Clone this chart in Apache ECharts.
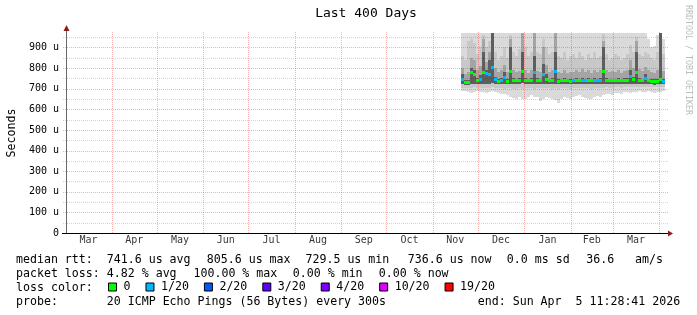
<!DOCTYPE html>
<html>
<head>
<meta charset="utf-8">
<script src="https://cdn.jsdelivr.net/npm/echarts@6.0.0/dist/echarts.min.js"></script>
<style>
html,body{margin:0;padding:0;background:#ffffff;}
#chart{width:697px;height:315px;}
</style>
</head>
<body>
<div id="chart"></div>
<script>
// ================= DATA =================
const chartTitle = 'Last 400 Days';
const yAxisName = 'Seconds';
const sideText = 'RRDTOOL / TOBI OETIKER';
const endTime = '2026-04-05T11:28:41';
const spanDays = 400;
const yMax = 970;
const yGridValues = [50,100,150,200,250,300,350,400,450,500,550,600,650,700,750,800,850,900,950];
const monthStarts = ['2025-03-01','2025-04-01','2025-05-01','2025-06-01','2025-07-01','2025-08-01','2025-09-01',
  '2025-10-01','2025-11-01','2025-12-01','2026-01-01','2026-02-01','2026-03-01','2026-04-01'];
const monthNames = ['Mar','Apr','May','Jun','Jul','Aug','Sep','Oct','Nov','Dec','Jan','Feb','Mar'];

// columns of 2 days each, starting at the first sample
const firstColumn = '2025-11-21T00:00:00';
const columnDays = 2;

// median RTT (microseconds)
const median = [
  745,732,731,780,770,742,748,779,776,769,
  806,745,738,741,756,738,784,742,740,740,
  787,742,740,742,779,741,740,773,745,740,
  740,784,739,740,741,740,739,740,741,740,
  742,740,741,740,742,740,742,784,741,740,
  740,740,741,740,741,742,760,745,779,742,
  740,750,740,738,737,738,745,737];
// loss class index into lossNames
const lossIndex = [
  1,0,0,0,0,0,1,0,1,1,
  1,1,0,1,1,0,0,0,0,0,
  0,0,0,0,1,0,0,1,0,0,
  0,1,0,0,0,0,0,1,0,0,
  1,1,0,0,1,1,1,0,0,0,
  0,0,0,0,0,0,1,0,0,0,
  0,1,0,0,0,0,0,1];
// smoke: outer (lightest) band
const smokeMin = [
  690,688,684,680,683,690,686,682,679,686,
  690,684,680,676,672,668,660,655,650,658,
  648,652,660,668,662,658,640,650,660,655,
  650,646,632,648,660,655,650,658,665,670,
  660,655,650,648,660,665,662,668,672,675,
  670,678,680,676,682,684,680,686,684,688,
  685,682,688,684,680,686,683,688];
const smokeMax = [
  970,970,970,970,970,970,970,970,970,970,
  970,970,970,970,970,970,970,970,970,970,
  970,970,970,970,970,970,970,970,970,970,
  970,970,970,970,970,970,970,970,970,970,
  970,970,970,970,970,970,970,970,970,970,
  970,970,970,970,970,970,970,970,970,970,
  970,970,940,900,905,960,970,940];
// second band
const band1Low = [
  705,703,702,704,706,705,704,703,702,704,
  706,705,703,702,700,702,704,700,698,702,
  700,703,704,702,700,703,701,703,704,702,
  700,702,698,701,703,702,700,703,704,705,
  703,702,701,700,703,704,703,705,706,705,
  704,706,707,705,706,707,706,707,706,708,
  707,706,708,707,706,707,706,708];
const band1High = [
  860,840,930,940,920,870,900,960,900,930,
  970,880,840,860,900,850,960,880,860,890,
  970,900,860,880,970,880,870,940,900,870,
  880,970,860,850,880,840,860,870,850,880,
  860,840,870,850,880,850,860,965,870,840,
  850,870,860,840,850,870,910,880,950,870,
  860,880,870,850,840,880,970,870];
// third band
const band2Low = [
  722,720,720,724,723,722,724,725,723,724,
  726,723,722,723,724,722,725,723,722,723,
  726,723,722,723,725,722,722,724,723,722,
  723,725,722,722,723,722,721,723,722,723,
  724,722,723,722,724,722,723,725,723,722,
  722,723,722,721,722,723,725,723,724,722,
  723,724,722,721,720,722,725,721];
const band2High = [
  800,770,780,850,840,790,810,940,830,880,
  970,800,780,790,815,780,940,790,780,785,
  970,790,775,790,970,785,780,900,815,780,
  790,970,780,778,790,775,780,782,790,780,
  795,780,790,778,790,782,790,930,790,780,
  785,780,790,778,785,790,840,800,930,795,
  785,805,790,780,778,790,970,785];
// dark core top
const coreHigh = [
  770,742,740,800,790,750,765,880,790,840,
  970,758,748,752,780,748,900,752,748,750,
  880,752,748,752,860,750,748,820,770,748,
  750,880,748,748,750,748,748,748,750,748,
  752,748,750,748,752,748,752,900,750,748,
  748,748,750,748,750,752,790,756,880,752,
  748,772,748,746,745,748,970,746];

const lossNames  = ['0','1/20','2/20','3/20','4/20','10/20','19/20'];
const lossColors = ['#00ff00','#00b8ff','#0059ff','#5e00ff','#7e00ff','#dd00ff','#ff0000'];

const statLine1 = ['median rtt:','741.6 us avg','805.6 us max','729.5 us min','736.6 us now','0.0 ms sd','36.6   am/s'];
const statLine2 = ['packet loss:','4.82 % avg','100.00 % max','0.00 % min','0.00 % now'];
const statLine3 = ['loss color:'];
const statLine4 = ['probe:','20 ICMP Echo Pings (56 Bytes) every 300s','end: Sun Apr  5 11:28:41 2026'];

// ================= LAYOUT / STYLE =================
const MONO = '"DejaVu Sans Mono", monospace';
const layout = {
  line1: {y: 260, x: [16, 106.8, 206.8, 305.5, 407.8, 506.8, 586.2]},
  line2: {y: 273.5, x: [16, 106.8, 193.5, 292.8, 378.8]},
  line3: {y: 287.5, x: [16]},
  line4: {y: 302, x: [16, 106.8, 477.8]}
};
const MAJOR = 'rgba(230,40,40,0.36)';
const MINOR = 'rgba(0,0,0,0.17)';

const DAY = 864e5;
const tOf = s => new Date(s.length === 10 ? s + 'T00:00:00' : s).getTime();
const endTs = tOf(endTime);
const startTs = endTs - spanDays * DAY;
const STEP = columnDays * DAY;
const colStart = tOf(firstColumn);
const colTimes = median.map((_, i) => colStart + i * STEP);

function rectBetween(api, t, lowV, highV, fill) {
  const a = api.coord([t - STEP / 2, highV]);
  const b = api.coord([t + STEP / 2, lowV]);
  const x0 = Math.round(a[0]), x1 = Math.round(b[0]);
  const y0 = Math.round(a[1]), y1 = Math.round(b[1]);
  return {type: 'rect', shape: {x: x0, y: y0, width: Math.max(0, x1 - x0), height: Math.max(0, y1 - y0)}, style: {fill}};
}

const chart = echarts.init(document.getElementById('chart'), null, {renderer: 'canvas'});

const series = [];
// smoke
series.push({
  type: 'custom', z: 1, silent: true, clip: true,
  data: colTimes.map((t, i) => [t, smokeMin[i], smokeMax[i], band1Low[i], band1High[i], band2Low[i], band2High[i], coreHigh[i]]),
  encode: {x: 0, y: [1, 2]},
  renderItem(params, api) {
    const t = api.value(0);
    return {type: 'group', children: [
      rectBetween(api, t, api.value(1), api.value(2), '#dadada'),
      rectBetween(api, t, api.value(3), api.value(4), '#c8c8c8'),
      rectBetween(api, t, api.value(5), api.value(6), '#a4a4a4'),
      rectBetween(api, t, api.value(5), api.value(7), '#5e5e5e')
    ]};
  }
});
// horizontal grid
series.push({
  type: 'custom', z: 2, silent: true, clip: false,
  data: yGridValues.map(v => [startTs, v]),
  encode: {x: 0, y: 1},
  renderItem(params, api) {
    const v = api.value(1);
    const p = api.coord([startTs, v]), q = api.coord([endTs, v]);
    const y = Math.round(p[1]) + 0.5;
    return {type: 'line', shape: {x1: Math.round(p[0]) - 3, y1: y, x2: Math.round(q[0]) + 3, y2: y},
      style: {stroke: v % 100 === 0 ? MAJOR : MINOR, lineWidth: 1, lineDash: [1, 1]}};
  }
});
// vertical month grid
series.push({
  type: 'custom', z: 2, silent: true, clip: false,
  data: monthStarts.map(tOf).filter(t => t > startTs && t < endTs).map(t => [t, 0]),
  encode: {x: 0, y: 1},
  renderItem(params, api) {
    const t = api.value(0);
    const p = api.coord([t, 0]), q = api.coord([t, yMax]);
    const x = Math.round(p[0]) + 0.5;
    return {type: 'line', shape: {x1: x, y1: Math.round(p[1]), x2: x, y2: Math.round(q[1]) - 2},
      style: {stroke: MAJOR, lineWidth: 1, lineDash: [1, 1]}};
  }
});
// median coloured by loss
lossNames.forEach((name, k) => {
  series.push({
    type: 'custom', name, z: 4, silent: true, clip: true,
    itemStyle: {color: lossColors[k]},
    data: colTimes.map((t, i) => lossIndex[i] === k ? [t, median[i]] : null).filter(d => d),
    encode: {x: 0, y: 1},
    renderItem(params, api) {
      const t = api.value(0), v = api.value(1);
      const a = api.coord([t - STEP / 2, v]), b = api.coord([t + STEP / 2, v]);
      const x0 = Math.round(a[0]), x1 = Math.round(b[0]), y = Math.round(a[1]);
      return {type: 'rect', shape: {x: x0, y: y - 1, width: x1 - x0, height: 3}, style: {fill: lossColors[k]}};
    }
  });
});
// month labels
series.push({
  type: 'scatter', z: 5, silent: true, clip: false, symbolSize: 1,
  itemStyle: {color: 'rgba(0,0,0,0)'},
  data: monthNames.map((n, i) => ({name: n, value: [(tOf(monthStarts[i]) + tOf(monthStarts[i + 1])) / 2, 0]})),
  label: {show: true, position: 'bottom', distance: 2, formatter: '{b}', fontFamily: MONO, fontSize: 10, color: '#000'}
});

chart.setOption({
  animation: false,
  backgroundColor: '#ffffff',
  grid: {left: 66, right: 31, top: 33, bottom: 82, containLabel: false, outerBoundsMode: 'none'},
  xAxis: {
    type: 'time', min: startTs, max: endTs,
    axisLine: {show: true, lineStyle: {color: '#000', width: 1}},
    axisTick: {show: false}, axisLabel: {show: false}, splitLine: {show: false}
  },
  yAxis: {
    type: 'value', min: 0, max: yMax, interval: 100,
    name: yAxisName, nameLocation: 'middle', nameGap: 48,
    nameTextStyle: {fontFamily: MONO, fontSize: 11.6, color: '#000'},
    axisLine: {show: true, lineStyle: {color: '#6a6a6a', width: 1}},
    axisTick: {show: false}, splitLine: {show: false},
    axisLabel: {
      fontFamily: MONO, fontSize: 10, color: '#000', margin: 7,
      formatter: v => (v % 100 !== 0) ? '' : (v === 0 ? '0' : v + ' u')
    }
  },
  legend: {
    data: lossNames, left: 108, top: 281, padding: 0, itemWidth: 8, itemHeight: 8, itemGap: 15,
    selectedMode: false, icon: 'rect',
    itemStyle: {borderColor: '#000', borderWidth: 1},
    textStyle: {fontFamily: MONO, fontSize: 11.6, color: '#000', padding: [0, 0, 0, 2]}
  },
  series
});

// ---- text and axis arrows ----
const pTL = chart.convertToPixel({gridIndex: 0}, [startTs, yMax]);
const pBR = chart.convertToPixel({gridIndex: 0}, [endTs, 0]);
const ax = Math.round(pTL[0]);
const ay = Math.round(pBR[1]);
const graphics = [];
function txt(text, x, y, font) {
  graphics.push({type: 'text', x, y, silent: true,
    style: {text, font, fill: '#000', align: 'left', verticalAlign: 'middle', textAlign: 'left', textVerticalAlign: 'middle'}});
}
[['line1', statLine1], ['line2', statLine2], ['line3', statLine3], ['line4', statLine4]].forEach(([k, arr]) => {
  arr.forEach((s, i) => txt(s, layout[k].x[i], layout[k].y, '11.6px ' + MONO));
});
graphics.push({type: 'text', x: 366, y: 14, silent: true,
  style: {text: chartTitle, font: '13px ' + MONO, fill: '#000', align: 'center', verticalAlign: 'middle', textAlign: 'center', textVerticalAlign: 'middle'}});
graphics.push({type: 'text', x: 688, y: 60, rotation: -Math.PI / 2, silent: true,
  style: {text: sideText, font: '8.3px ' + MONO, fill: '#bcbcbc', align: 'center', verticalAlign: 'middle', textAlign: 'center', textVerticalAlign: 'middle'}});
// axis extensions + arrows
graphics.push({type: 'line', silent: true, shape: {x1: ax - 4, y1: ay + 0.5, x2: Math.round(pBR[0]) + 3, y2: ay + 0.5}, style: {stroke: '#000', lineWidth: 1}});
graphics.push({type: 'line', silent: true, shape: {x1: ax + 0.5, y1: Math.round(pTL[1]), x2: ax + 0.5, y2: Math.round(pTL[1]) - 3}, style: {stroke: '#6a6a6a', lineWidth: 1}});
graphics.push({type: 'polygon', silent: true, shape: {points: [[ax - 2.5, pTL[1] - 2], [ax + 3.5, pTL[1] - 2], [ax + 0.5, pTL[1] - 8]]}, style: {fill: '#8c1c1c'}});
graphics.push({type: 'polygon', silent: true, shape: {points: [[pBR[0] + 2, ay - 2.5], [pBR[0] + 2, ay + 3.5], [pBR[0] + 7, ay + 0.5]]}, style: {fill: '#8c1c1c'}});
chart.setOption({graphic: graphics});
</script>
</body>
</html>
